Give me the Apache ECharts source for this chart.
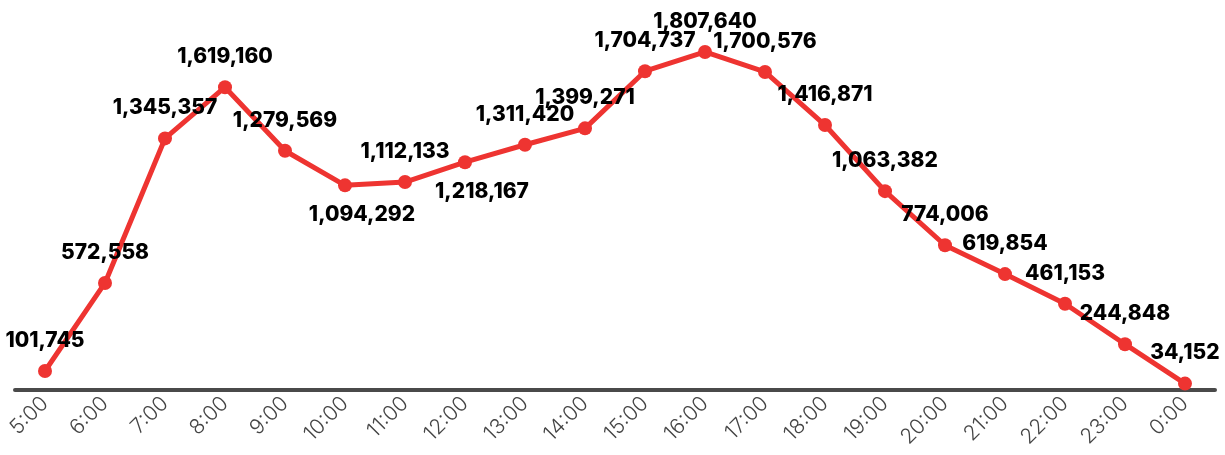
<!DOCTYPE html>
<html>
<head>
<meta charset="utf-8">
<script src="https://cdn.jsdelivr.net/npm/echarts@6/dist/echarts.min.js"></script>
<style>
  html, body { margin: 0; padding: 0; background: #fff; }
  #chart { width: 1225px; height: 455px; }
</style>
</head>
<body>
<div id="chart"></div>
<script>
const hours = ['5:00', '6:00', '7:00', '8:00', '9:00', '10:00', '11:00', '12:00', '13:00', '14:00',
  '15:00', '16:00', '17:00', '18:00', '19:00', '20:00', '21:00', '22:00', '23:00', '0:00']
const counts = [101745, 572558, 1345357, 1619160, 1279569, 1094292, 1112133, 1218167, 1311420, 1399271,
  1704737, 1807640, 1700576, 1416871, 1063382, 774006, 619854, 461153, 244848, 34152]
// points whose label sits under the marker
const labelBelow = ['10:00', '12:00']

const myChart = echarts.init(document.getElementById('chart'))

const seriesData = counts.map((v, i) => {
  const item = { value: v }
  if (labelBelow.includes(hours[i])) {
    item.label = { position: 'bottom', distance: 12, offset: [17, 0] }
  }
  return item
})

myChart.setOption({
  animation: false,
  grid: { left: 15, right: 10, top: 16, bottom: 65 },
  xAxis: {
    type: 'category',
    data: hours,
    axisLine: { lineStyle: { color: '#4a4a4a', width: 4 } },
    axisTick: { show: false },
    axisLabel: {
      rotate: 45,
      margin: 10,
      color: '#444',
      fontSize: 21,
      fontFamily: 'Inter',
      fontWeight: 300,
    },
  },
  yAxis: {
    type: 'value',
    min: 0,
    max: 2000000,
    show: false,
    splitLine: { show: false },
  },
  series: [
    {
      type: 'line',
      data: seriesData,
      symbol: 'circle',
      symbolSize: 14,
      lineStyle: { color: '#ee3431', width: 5 },
      itemStyle: { color: '#ee3431' },
      label: {
        show: true,
        position: 'top',
        distance: 13,
        color: '#000',
        fontSize: 21,
        fontFamily: 'Inter',
        fontWeight: 800,
        formatter: (p) => p.value.toLocaleString('en-US'),
      },
    },
  ],
})
</script>
</body>
</html>
